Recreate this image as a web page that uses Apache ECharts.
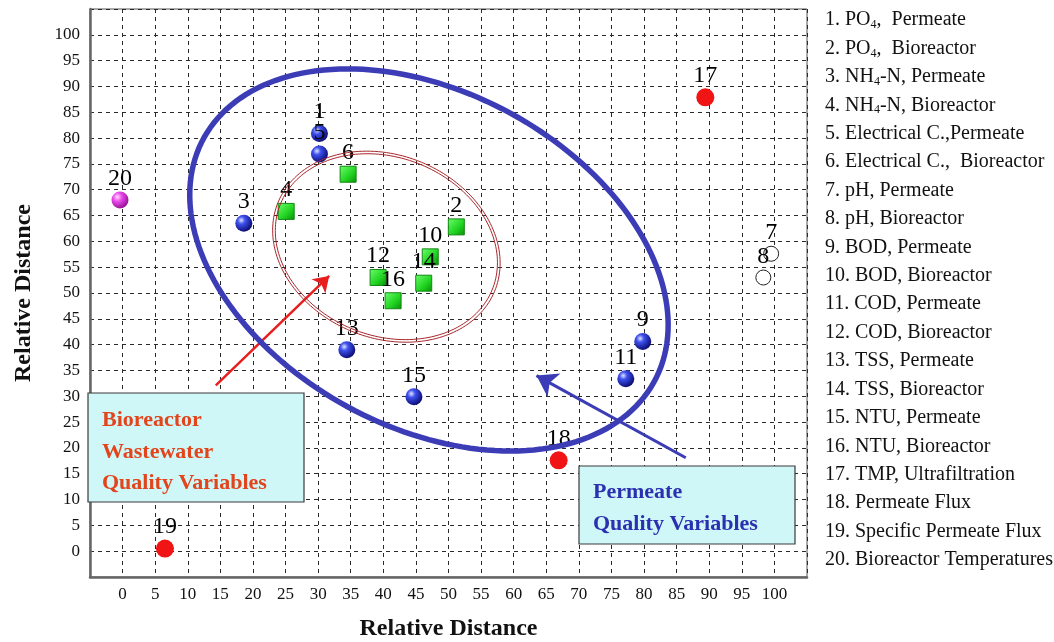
<!DOCTYPE html>
<html><head><meta charset="utf-8">
<script src="https://cdn.jsdelivr.net/npm/echarts@6/dist/echarts.min.js"></script>
<style>html,body{margin:0;padding:0;background:#fff}#c{width:1054px;height:642px}</style>
</head><body><div id="c"></div>
<script>
// ---- data ----
const pointLabels = ['1','2','3','4','5','6','7','8','9','10','11','12','13','14','15','16','17','18','19','20'];
const pointX = [30.2, 51.2, 18.6, 25.1, 30.2, 34.6, 99.5, 98.3, 79.8, 47.2, 77.2, 39.2, 34.4, 46.2, 44.7, 41.5, 89.4, 66.9, 6.5, -0.4];
const pointY = [80.9, 62.8, 63.5, 65.8, 76.9, 73.0, 57.6, 53.0, 40.6, 57.0, 33.4, 53.0, 39.0, 51.9, 29.9, 48.5, 87.9, 17.6, 0.5, 68.0];
const pointGroup = ['perm','bio','perm','bio','perm','bio','open','open','perm','bio','perm','bio','perm','bio','perm','bio','red','red','red','temp'];
const tickMin = -5, tickMax = 105, tickStep = 5, tickLabelMin = 0, tickLabelMax = 100;
const legendItems = [
  '1. PO{s|4},  Permeate',
  '2. PO{s|4},  Bioreactor',
  '3. NH{s|4}-N, Permeate',
  '4. NH{s|4}-N, Bioreactor',
  '5. Electrical C.,Permeate',
  '6. Electrical C.,  Bioreactor',
  '7. pH, Permeate',
  '8. pH, Bioreactor',
  '9. BOD, Permeate',
  '10. BOD, Bioreactor',
  '11. COD, Permeate',
  '12. COD, Bioreactor',
  '13. TSS, Permeate',
  '14. TSS, Bioreactor',
  '15. NTU, Permeate',
  '16. NTU, Bioreactor',
  '17. TMP, Ultrafiltration',
  '18. Permeate Flux',
  '19. Specific Permeate Flux',
  '20. Bioreactor Temperatures'
];
const axisTitle = 'Relative Distance';
const boxTexts = ['Bioreactor\nWastewater\nQuality Variables', 'Permeate\nQuality Variables'];
// ellipses (data units): centre, half extents, phase (deg)
const ellipseCx = [47.0, 40.47, 40.47];
const ellipseCy = [56.4, 58.97, 58.97];
const ellipseAx = [36.7, 17.04, 17.45];
const ellipseAy = [37.0, 18.0, 18.5];
const ellipsePhase = [70.1, 80.1, 80.1];
// arrows (data units): [tail, tip]
const redArrow = [[14.3, 32.1], [31.7, 53.3]];
const blueArrow = [[86.4, 18.1], [63.5, 34.0]];

// ---- styles ----
const serif = 'Liberation Serif';
const ellipseColor = ['#3b3cb6', '#a8282c', '#a8282c'];
const ellipseWidth = [5.5, 1, 1];
const groupStyle = {
  perm: {symbol: 'circle', size: 17, item: {opacity: 1, color: {type: 'radial', x: 0.35, y: 0.32, r: 0.75, colorStops: [{offset: 0, color: '#dfe4ff'}, {offset: 0.3, color: '#3f52ee'}, {offset: 0.8, color: '#15198f'}, {offset: 1, color: '#0a0c55'}]}}},
  bio: {symbol: 'rect', size: 16, item: {opacity: 1, color: {type: 'linear', x: 0, y: 0, x2: 1, y2: 1, colorStops: [{offset: 0, color: '#6cff6c'}, {offset: 0.6, color: '#1fd21f'}, {offset: 1, color: '#0a8a0a'}]}, borderColor: '#138a13', borderWidth: 1}},
  open: {symbol: 'circle', size: 15, item: {opacity: 1, color: '#ffffff', borderColor: '#222', borderWidth: 1}},
  red: {symbol: 'circle', size: 18, item: {opacity: 1, color: '#f01414'}},
  temp: {symbol: 'circle', size: 17, item: {opacity: 1, color: {type: 'radial', x: 0.35, y: 0.32, r: 0.75, colorStops: [{offset: 0, color: '#ffe0ff'}, {offset: 0.35, color: '#ec4aec'}, {offset: 1, color: '#8a0a8a'}]}}}
};

const chart = echarts.init(document.getElementById('c'), null, {renderer: 'canvas'});

const groups = ['perm', 'bio', 'open', 'red', 'temp'];
const scatterSeries = groups.map(g => ({
  type: 'scatter',
  z: 3,
  symbol: groupStyle[g].symbol,
  symbolSize: groupStyle[g].size,
  itemStyle: groupStyle[g].item,
  label: {
    show: true, position: 'top', distance: 1,
    formatter: p => p.value[2],
    color: '#000', fontFamily: serif, fontSize: 24, opacity: 1
  },
  emphasis: {disabled: true},
  data: pointX.map((x, i) => [x, pointY[i], pointLabels[i], pointGroup[i]]).filter(d => d[3] === g)
}));

const tickFmt = v => (v < tickLabelMin || v > tickLabelMax) ? '' : String(v);

const axisCommon = {
  type: 'value', min: tickMin, max: tickMax, interval: tickStep,
  axisLine: {onZero: false, lineStyle: {color: '#666', width: 2.5}},
  axisTick: {show: false},
  splitLine: {show: true, lineStyle: {color: '#2a2a2a', type: [4, 4], width: 1}},
  axisLabel: {formatter: tickFmt, color: '#111', fontFamily: serif, fontSize: 17},
  name: axisTitle, nameLocation: 'middle',
  nameTextStyle: {fontFamily: serif, fontSize: 24, fontWeight: 'bold', color: '#111'}
};

const legendGraphics = legendItems.map((t, i) => ({
  type: 'text', left: 825, top: 20 + i * 28.42 - 11,
  style: {
    text: t, fill: '#111', font: '20px "Liberation Serif"', lineHeight: 22,
    rich: {s: {fontSize: 12, fontFamily: serif, fill: '#111', verticalAlign: 'bottom', lineHeight: 22, padding: [8, 0, 0, 0]}}
  }
}));

function arrowSeries(coords, color, width, size) {
  return {
    type: 'lines', coordinateSystem: 'cartesian2d', z: 4,
    symbol: ['none', 'arrow'], symbolSize: size,
    lineStyle: {color: color, width: width, opacity: 1, curveness: 0},
    data: [{coords: coords}]
  };
}

const option = {
  backgroundColor: '#ffffff',
  animation: false,
  grid: {left: 90, top: 9, right: 247, bottom: 65, show: true, borderColor: '#555', borderWidth: 1, containLabel: false, outerBoundsMode: 'none'},
  xAxis: Object.assign({}, axisCommon, {nameGap: 40, axisLabel: Object.assign({}, axisCommon.axisLabel, {margin: 9})}),
  yAxis: Object.assign({}, axisCommon, {nameGap: 54, axisLabel: Object.assign({}, axisCommon.axisLabel, {margin: 10})}),
  series: [
    {
      type: 'custom', coordinateSystem: 'cartesian2d', z: 5, silent: true,
      data: ellipseCx.map((cx, i) => [cx, ellipseCy[i]]),
      renderItem: function (params, api) {
        const i = params.dataIndex;
        const pts = [];
        const ph = ellipsePhase[i] * Math.PI / 180;
        for (let k = 0; k <= 180; k++) {
          const t = k / 180 * 2 * Math.PI;
          pts.push(api.coord([ellipseCx[i] + ellipseAx[i] * Math.cos(t), ellipseCy[i] - ellipseAy[i] * Math.cos(t + ph)]));
        }
        return {type: 'polyline', shape: {points: pts}, style: {stroke: ellipseColor[i], lineWidth: ellipseWidth[i], fill: null}};
      }
    },
    arrowSeries(redArrow, '#e81e1e', 2.5, 15),
    arrowSeries(blueArrow, '#3b3cb6', 3, 20)
  ].concat(scatterSeries),
  graphic: [
    {type: 'rect', z: 10, shape: {x: 88, y: 393, width: 216, height: 109}, style: {fill: '#cff7f8', stroke: '#3a3a3a', lineWidth: 1.2}},
    {type: 'text', z: 11, left: 102, top: 405, style: {text: boxTexts[0], fill: '#e2441c', font: 'bold 22px "Liberation Serif"', lineHeight: 31.5}},
    {type: 'rect', z: 10, shape: {x: 579, y: 466, width: 216, height: 78}, style: {fill: '#cff7f8', stroke: '#3a3a3a', lineWidth: 1.2}},
    {type: 'text', z: 11, left: 593, top: 476, style: {text: boxTexts[1], fill: '#2b30b0', font: 'bold 22px "Liberation Serif"', lineHeight: 32}}
  ].concat(legendGraphics)
};
chart.setOption(option);
</script>
</body></html>
